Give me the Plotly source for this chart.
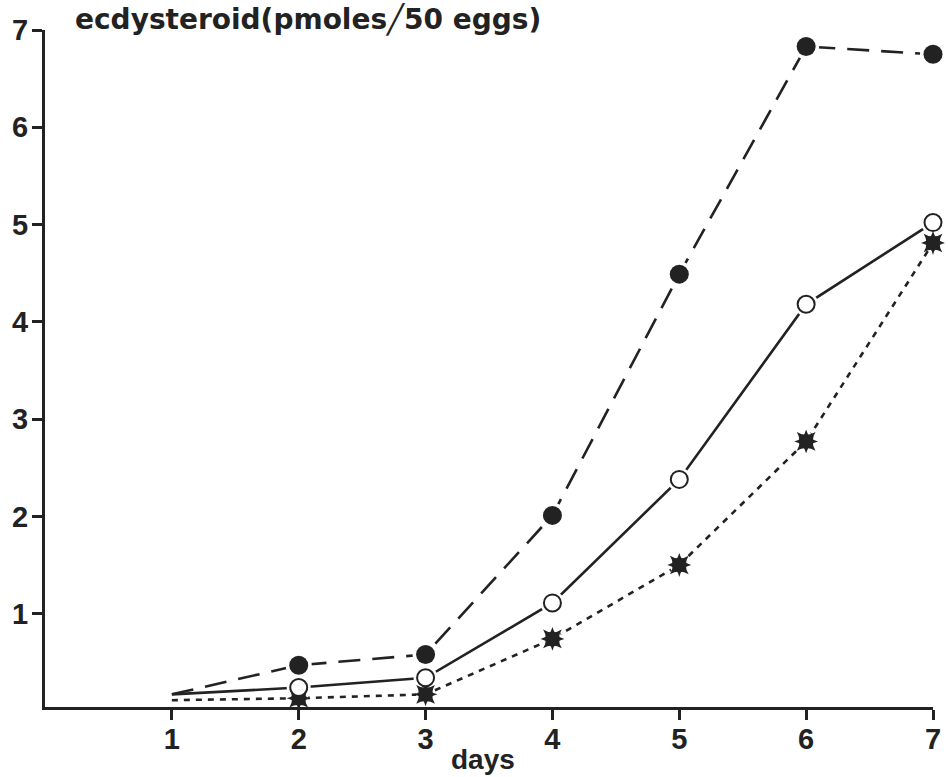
import plotly.graph_objects as go

days = [1, 2, 3, 4, 5, 6, 7]
filled = [0.17, 0.47, 0.58, 2.01, 4.49, 6.83, 6.75]
open_c = [0.17, 0.24, 0.34, 1.11, 2.38, 4.18, 5.02]
star = [0.11, 0.13, 0.17, 0.74, 1.50, 2.77, 4.81]
x_ticks = [1, 2, 3, 4, 5, 6, 7]
y_ticks = [1, 2, 3, 4, 5, 6, 7]

INK = "#222222"
FONT = "Liberation Sans"

fig = go.Figure()

def line(y, dash, width=2.6):
    fig.add_trace(go.Scatter(x=days, y=y, mode="lines", cliponaxis=False,
                             line=dict(color=INK, width=width, dash=dash),
                             hoverinfo="skip", showlegend=False))

def marks(y, symbol, size, color, lcolor, lwidth):
    fig.add_trace(go.Scatter(x=days[1:], y=y[1:], mode="markers", cliponaxis=False,
                             marker=dict(symbol=symbol, size=size, color=color,
                                         line=dict(color=lcolor, width=lwidth)),
                             hoverinfo="skip", showlegend=False))

line(filled, "22px,12px")
line(open_c, "solid")
line(star, "6px,6px")

# white halos to break lines near markers
marks(filled, "circle", 26, "white", "white", 0)
marks(open_c, "circle", 24, "white", "white", 0)
marks(star, "circle", 19, "white", "white", 0)

marks(star, "star-square", 17, INK, INK, 0)
marks(star, "star-diamond", 17, INK, INK, 0)
marks(open_c, "circle", 17, "white", INK, 2)
marks(filled, "circle", 19, INK, INK, 0)

fig.add_annotation(text="ecdysteroid(pmoles╱50 eggs)", xref="paper", yref="paper",
                   x=0.031, y=1.0, xanchor="left", yanchor="middle", yshift=11,
                   showarrow=False,
                   font=dict(family="DejaVu Sans", size=28, color=INK, weight="bold"))

fig.add_annotation(text="days", xref="paper", yref="paper",
                   x=0.493, y=-0.077, xanchor="center", yanchor="middle",
                   showarrow=False,
                   font=dict(family=FONT, size=28, color=INK, weight="bold"))

fig.update_layout(
    width=948, height=777,
    margin=dict(l=45, r=15, t=30, b=70),
    paper_bgcolor="white", plot_bgcolor="white",
    font=dict(family=FONT, color=INK),
    xaxis=dict(range=[0, 7], tickvals=x_ticks, ticktext=[str(v) for v in x_ticks],
               automargin=False, ticklabelstandoff=-6,
               showgrid=False, zeroline=False, showline=True, linecolor=INK, linewidth=3,
               ticks="outside", ticklen=10, tickwidth=3, tickcolor=INK,
               tickfont=dict(family=FONT, size=29, color=INK, weight="bold")),
    yaxis=dict(range=[0.04, 7], tickvals=y_ticks, ticktext=[str(v) for v in y_ticks],
               automargin=False, ticklabelstandoff=-2,
               showgrid=False, zeroline=False, showline=True, linecolor=INK, linewidth=3,
               ticks="outside", ticklen=10, tickwidth=3, tickcolor=INK,
               tickfont=dict(family=FONT, size=29, color=INK, weight="bold")),
)

fig.write_html("out.html")
